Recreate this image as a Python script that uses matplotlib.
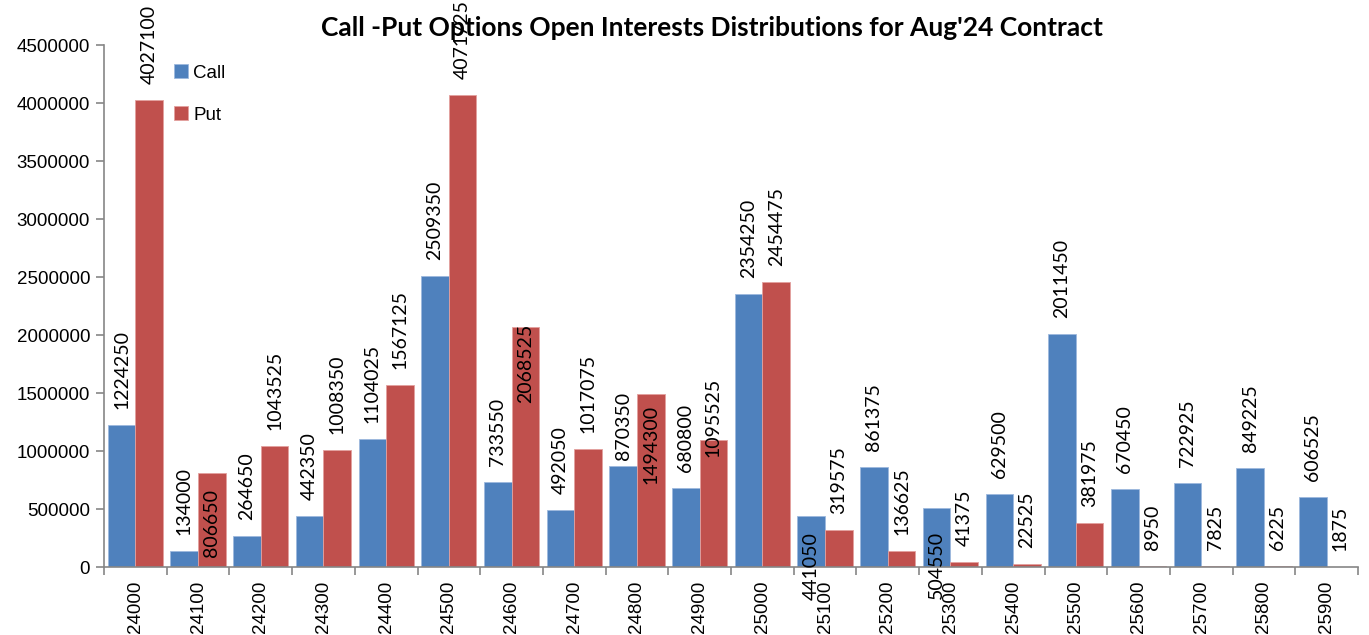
import matplotlib
matplotlib.use("Agg")
import matplotlib.pyplot as plt
import numpy as np

strikes = ["24000", "24100", "24200", "24300", "24400", "24500", "24600", "24700", "24800", "24900",
           "25000", "25100", "25200", "25300", "25400", "25500", "25600", "25700", "25800", "25900"]
call_oi = [1224250, 134000, 264650, 442350, 1104025, 2509350, 733550, 492050, 870350, 680800,
           2354250, 441050, 861375, 504550, 629500, 2011450, 670450, 722925, 849225, 606525]
put_oi = [4027100, 806650, 1043525, 1008350, 1567125, 4071725, 2068525, 1017075, 1494300, 1095525,
          2454475, 319575, 136625, 41375, 22525, 381975, 8950, 7825, 6225, 1875]
y_ticks = [0, 500000, 1000000, 1500000, 2000000, 2500000, 3000000, 3500000, 4000000, 4500000]
title = "Call -Put Options Open Interests Distributions for Aug'24 Contract"

# label offsets (pixels above bar top); default 16
call_off = {8: 6, 11: -84, 13: -91}
put_off = {1: -84, 6: -76, 8: -90, 9: -17}

CALL_C = "#4F81BD"
PUT_C = "#C0504D"

fig = plt.figure(figsize=(13.69, 6.35), dpi=100)
ax = fig.add_axes([104/1369, 1-567/635, 1254/1369, 522/635])

x = np.arange(len(strikes))
w = 0.44
bc = ax.bar(x - w/2, call_oi, w, color=CALL_C, edgecolor="#9DB9DD", linewidth=0.6, label="Call")
bp = ax.bar(x + w/2, put_oi, w, color=PUT_C, edgecolor="#E3A09E", linewidth=0.6, label="Put")

px2pt = 72/100
lab_font = dict(family="Lato", fontsize=14, color="black")
for i in range(len(strikes)):
    ax.annotate(str(call_oi[i]), (x[i] - w/2, call_oi[i]), xytext=(0, call_off.get(i, 16)*px2pt),
                textcoords="offset points", rotation=90, ha="center", va="bottom", **lab_font)
    ax.annotate(str(put_oi[i]), (x[i] + w/2, put_oi[i]), xytext=(0, put_off.get(i, 16)*px2pt),
                textcoords="offset points", rotation=90, ha="center", va="bottom", **lab_font)

ax.set_xlim(-0.5, len(strikes) - 0.5)
ax.set_ylim(0, 4500000)
ax.set_yticks(y_ticks)
ax.set_yticklabels([str(v) for v in y_ticks], family="Liberation Sans", fontsize=13.5)
ax.set_xticks(x)
ax.set_xticklabels(strikes, rotation=90, family="Liberation Sans", fontsize=13.5)
ax.set_xticks(np.arange(-0.5, len(strikes)), minor=True)
ax.tick_params(axis="x", which="major", length=0, pad=10)
ax.tick_params(axis="x", which="minor", length=6, color="#868686", width=1.2)
ax.tick_params(axis="y", length=6, color="#868686", width=1.2, pad=4)
for s in ["top", "right"]:
    ax.spines[s].set_visible(False)
for s in ["left", "bottom"]:
    ax.spines[s].set_color("#868686")
    ax.spines[s].set_linewidth(1.2)

leg = ax.legend(handles=[bc, bp], loc="upper left", bbox_to_anchor=(0.042, 0.995), frameon=False,
                handlelength=0.75, handleheight=0.75, handletextpad=0.3, labelspacing=1.3,
                prop=dict(family="Liberation Sans", size=13.5))

fig.text(712/1369, 1-28/635, title, ha="center", va="center", family="Lato", fontweight="bold", fontsize=19)

fig.savefig("out.png", dpi=100)
